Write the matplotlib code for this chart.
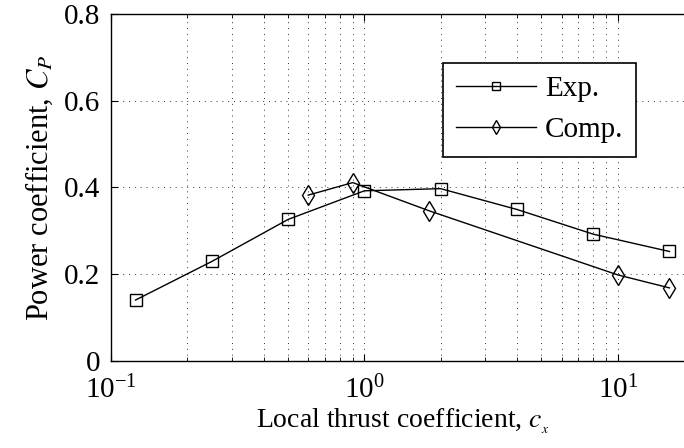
import matplotlib.pyplot as plt
import numpy as np
from matplotlib.ticker import LogLocator, NullFormatter

plt.rcParams.update(
    {
        "font.family": "serif",
        "font.serif": ["Liberation Serif", "DejaVu Serif"],
        "mathtext.fontset": "stix",
        "font.size": 16,
        "xtick.direction": "in",
        "ytick.direction": "in",
        "axes.linewidth": 1.0,
    }
)

# Data
exp_cx = [0.125, 0.25, 0.5, 1.0, 2.0, 4.0, 8.0, 16.0]
exp_cp = [0.140, 0.229, 0.326, 0.392, 0.397, 0.349, 0.292, 0.252]

comp_cx = [0.6, 0.9, 1.8, 10.0, 16.0]
comp_cp = [0.382, 0.411, 0.346, 0.198, 0.168]

fig = plt.figure(figsize=(6.84, 4.48), dpi=100)
ax = fig.add_axes([111 / 684, 1 - 360.7 / 448, 583 / 684, 346.7 / 448])

ax.plot(exp_cx, exp_cp, "k-", marker="s", markersize=8, markerfacecolor="none",
        markeredgewidth=1.0, linewidth=1.0, label="Exp.")
ax.plot(comp_cx, comp_cp, "k-", marker="d", markersize=10, markerfacecolor="none",
        markeredgewidth=1.0, linewidth=1.0, label="Comp.")

ax.set_xscale("log")
ax.set_xlim(0.1, 20)
ax.set_ylim(0, 0.8)
ax.set_yticks([0, 0.2, 0.4, 0.6, 0.8])
ax.set_yticklabels(["0", "0.2", "0.4", "0.6", "0.8"])
ax.xaxis.set_minor_locator(LogLocator(base=10, subs=np.arange(2, 10)))
ax.xaxis.set_minor_formatter(NullFormatter())

ax.grid(True, which="major", linestyle=(0, (1, 5)), color="0.2", linewidth=0.7)
ax.grid(True, which="minor", axis="x", linestyle=(0, (1, 5)), color="0.2", linewidth=0.7)
ax.tick_params(which="both", top=True, right=True)
ax.tick_params(which="major", length=5, labelsize=21)
ax.tick_params(axis="x", which="major", pad=11)
ax.tick_params(axis="y", which="major", pad=8)
ax.tick_params(which="minor", length=3)

ax.set_xlabel(r"Local thrust coefficient, $c_{_x}$", fontsize=20, labelpad=2)
ax.set_ylabel(r"Power coefficient, $C_P$", fontsize=22, labelpad=6)

leg = ax.legend(loc="upper left", bbox_to_anchor=(0.569, 0.859), fontsize=21,
                markerscale=0.7, handlelength=2.75, frameon=True, fancybox=False,
                edgecolor="k", framealpha=1.0, borderpad=0.45, labelspacing=0.5,
                handletextpad=0.3, borderaxespad=0)
leg.get_frame().set_linewidth(1.2)

fig.savefig("out.png", dpi=100)
